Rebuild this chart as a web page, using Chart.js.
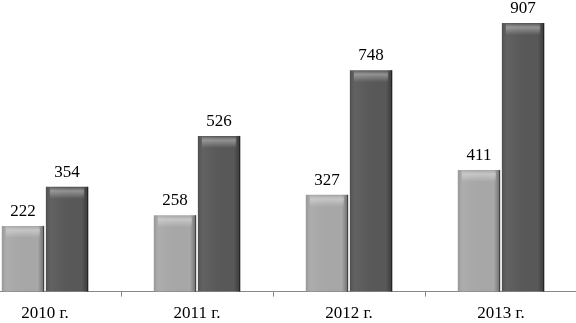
<!DOCTYPE html>
<html>
<head>
<meta charset="utf-8">
<script src="https://cdn.jsdelivr.net/npm/chart.js@4.4.0/dist/chart.umd.min.js"></script>
<style>
  html, body { margin: 0; padding: 0; background: #fff; overflow: hidden; }
  #wrap { position: absolute; left: -31px; top: 0; width: 608px; height: 333px; }
</style>
</head>
<body>
<div id="wrap"><canvas id="chart"></canvas></div>
<script>
const years = ['2010 г.', '2011 г.', '2012 г.', '2013 г.'];
const seriesA = [222, 258, 327, 411];
const seriesB = [354, 526, 748, 907];

// bevel look: side shading + light strip at the top of each bar
const bevelPlugin = {
    id: 'bevel',
    afterDatasetsDraw(chart) {
        const ctx = chart.ctx;
        chart.data.datasets.forEach((ds, i) => {
            chart.getDatasetMeta(i).data.forEach(bar => {
                const left = bar.x - bar.width / 2;
                const top = bar.y;
                const w = bar.width;
                const h = bar.base - bar.y;
                ctx.save();
                let g = ctx.createLinearGradient(left, 0, left + w, 0);
                g.addColorStop(0, 'rgba(0,0,0,0.10)');
                g.addColorStop(0.12, 'rgba(255,255,255,0.06)');
                g.addColorStop(0.85, 'rgba(0,0,0,0)');
                g.addColorStop(1, 'rgba(0,0,0,0.35)');
                ctx.fillStyle = g;
                ctx.fillRect(left, top, w, h);
                let g2 = ctx.createLinearGradient(0, top, 0, top + 12);
                g2.addColorStop(0, 'rgba(255,255,255,0.0)');
                g2.addColorStop(0.35, 'rgba(255,255,255,0.35)');
                g2.addColorStop(1, 'rgba(255,255,255,0)');
                ctx.fillStyle = g2;
                ctx.fillRect(left + 4, top + 1, w - 8, 11);
                ctx.fillStyle = 'rgba(0,0,0,0.5)';
                ctx.fillRect(left + w - 1, top, 1, h);
                ctx.restore();
            });
        });
    }
};

const valueLabels = {
    id: 'valueLabels',
    afterDraw(chart) {
        const ctx = chart.ctx;
        ctx.save();
        ctx.font = '17px "Liberation Serif"';
        ctx.fillStyle = '#000';
        ctx.textAlign = 'center';
        ctx.textBaseline = 'alphabetic';
        chart.data.datasets.forEach((ds, i) => {
            chart.getDatasetMeta(i).data.forEach((bar, j) => {
                ctx.fillText(ds.data[j], bar.x, bar.y - 10);
            });
        });
        ctx.restore();
    }
};

new Chart(document.getElementById('chart'), {
    type: 'bar',
    data: {
        labels: years,
        datasets: [
            { data: seriesA, backgroundColor: '#a8a8a8', borderWidth: 0 },
            { data: seriesB, backgroundColor: '#585858', borderWidth: 0 }
        ]
    },
    options: {
        responsive: true,
        maintainAspectRatio: false,
        animation: false,
        categoryPercentage: 0.58,
        barPercentage: 0.96,
        layout: { padding: { top: 0, bottom: 2, left: 0, right: 0 } },
        plugins: { legend: { display: false }, tooltip: { enabled: false } },
        scales: {
            x: {
                grid: { display: true, offset: true, drawOnChartArea: false, drawTicks: true, tickLength: 5, color: '#888' },
                border: { display: true, color: '#888', width: 1 },
                ticks: { color: '#000', font: { family: 'Liberation Serif', size: 17 }, padding: 7 }
            },
            y: {
                display: false,
                min: 0,
                max: 985
            }
        }
    },
    plugins: [bevelPlugin, valueLabels]
});
</script>
</body>
</html>
